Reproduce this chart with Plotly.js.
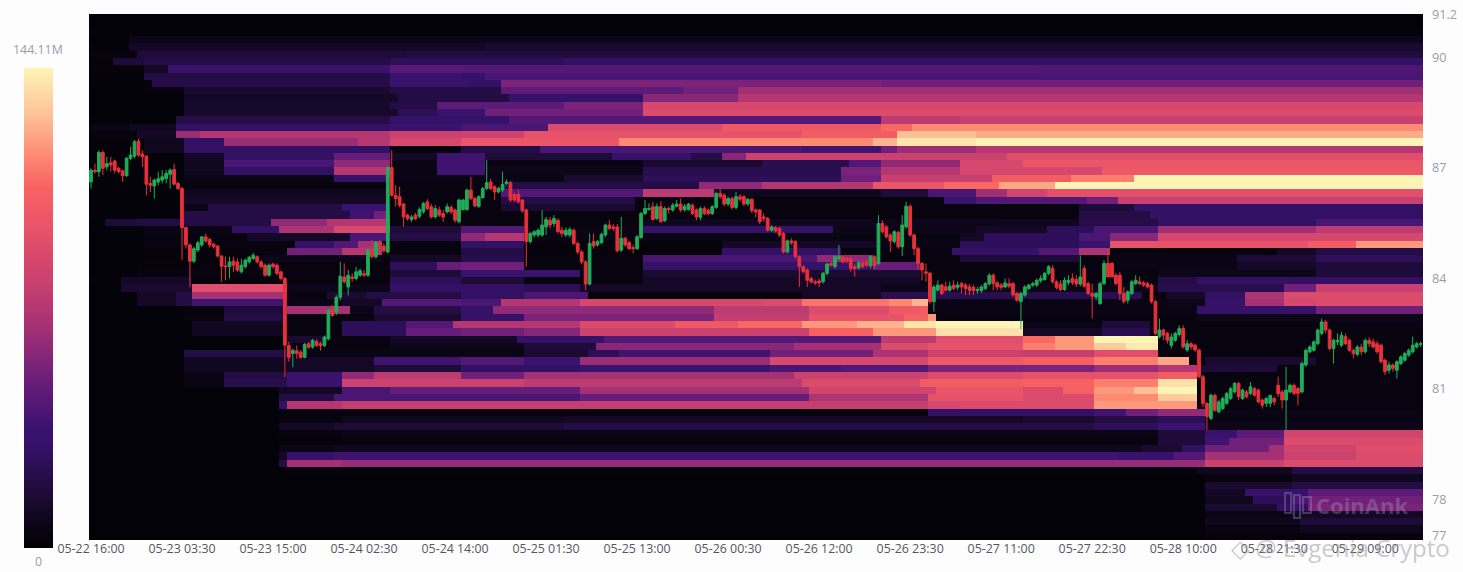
<!DOCTYPE html>
<html><head><meta charset="utf-8">
<script src="https://cdn.plot.ly/plotly-3.0.1.min.js"></script>
<style>html,body{margin:0;padding:0;background:#fdfdfe;overflow:hidden}</style></head>
<body><div id="chart" style="width:1463px;height:572px"></div>
<script>
// half-hour slot numbers of the labelled times (slot 0 = 05-22 16:00)
const tickSlots=[0,23,46,69,92,115,138,161,184,207,230,253,276,299,322];
const tickLabels=["05-22 16:00","05-23 03:30","05-23 15:00","05-24 02:30","05-24 14:00","05-25 01:30","05-25 13:00","05-26 00:30","05-26 12:00","05-26 23:30","05-27 11:00","05-27 22:30","05-28 10:00","05-28 21:30","05-29 09:00"];
const priceTicks=[91.16,90,87,84,81,78,77];
const priceLabels=["91.2","90","87","84","81","78","77"];
const maxLabel="144.11M", minLabel="0";

const opens=[86.61,86.93,86.89,87.41,87.02,87.13,87.18,86.98,86.91,86.78,
87.25,87.31,87.72,87.37,87.31,86.57,86.50,86.61,86.66,86.70,
86.82,86.95,86.57,86.43,85.37,84.90,84.46,84.76,84.90,85.12,
85.05,84.92,84.87,84.60,84.33,84.31,84.46,84.44,84.17,84.31,
84.44,84.53,84.58,84.44,84.35,84.08,84.38,84.35,84.17,83.99,
82.17,81.95,82.03,81.99,81.85,82.22,82.13,82.28,82.22,82.17,
82.35,83.17,83.08,83.48,84.03,83.76,84.03,83.99,84.08,84.12,
84.08,84.76,84.58,84.97,84.87,84.71,87.00,86.25,86.21,86.01,
85.71,85.59,85.71,85.68,85.80,86.07,85.94,85.66,85.85,85.75,
85.80,85.92,85.85,85.53,85.86,85.86,86.39,86.16,85.95,86.19,
86.43,86.61,86.48,86.34,86.39,86.57,86.59,86.27,86.27,86.12,
85.85,84.99,85.17,85.17,85.17,85.39,85.57,85.48,85.57,85.30,
85.17,85.17,85.30,84.94,84.71,84.44,83.84,84.99,84.90,84.96,
85.17,85.44,85.39,85.39,84.76,85.08,84.96,84.83,84.80,85.10,
85.75,85.86,85.94,85.62,85.94,85.56,85.89,85.85,85.95,86.01,
85.85,85.86,85.98,85.85,85.65,85.89,85.85,85.75,85.92,86.30,
86.25,86.01,86.16,85.92,86.21,86.21,86.01,86.14,85.85,85.85,
85.66,85.62,85.30,85.37,85.35,85.21,84.71,85.01,84.99,84.58,
84.31,84.22,83.99,83.90,83.92,83.90,84.13,84.40,84.31,84.53,
84.58,84.53,84.53,84.31,84.28,84.42,84.44,84.33,84.58,84.40,
85.48,85.39,85.17,84.99,85.24,84.85,85.39,85.95,85.17,84.80,
84.40,84.17,84.13,83.36,83.67,83.81,83.76,83.67,83.81,83.75,
83.85,83.81,83.76,83.75,83.66,83.66,83.72,83.84,84.08,83.87,
83.81,83.76,83.85,83.85,83.58,83.36,83.54,83.72,83.81,83.81,
83.93,83.96,84.13,84.26,83.90,83.84,83.69,83.88,83.99,83.96,
83.84,84.26,83.85,83.58,83.49,83.31,83.85,84.40,84.40,84.08,
84.08,83.58,83.40,83.58,83.85,83.90,83.87,83.85,83.81,83.36,
82.41,82.59,82.50,82.17,82.31,82.47,82.63,82.05,82.22,82.18,
82.05,81.32,80.60,80.19,80.82,80.37,80.46,80.60,80.73,80.91,
81.14,80.73,80.91,80.87,81.00,80.96,80.69,80.60,80.60,80.73,
81.09,80.91,80.69,80.91,81.09,81.00,80.91,81.64,82.00,82.04,
82.22,82.50,82.81,82.59,82.09,82.27,82.18,82.41,82.31,82.04,
81.93,82.13,82.00,82.31,82.27,82.22,82.18,81.77,81.50,81.64,
81.50,81.68,81.77,81.91,82.00,82.13,82.20];
const highs=[86.98,87.11,87.47,87.47,87.29,87.29,87.22,87.02,86.95,87.29,
87.56,87.75,87.79,87.47,87.34,86.75,86.70,86.89,86.93,86.93,
86.98,87.11,86.61,86.48,85.39,84.94,84.85,85.01,85.12,85.21,
85.10,84.96,84.90,84.62,84.58,84.58,84.58,84.53,84.53,84.53,
84.60,84.69,84.62,84.49,84.40,84.40,84.42,84.40,84.20,84.03,
82.27,82.09,82.17,82.04,82.24,82.26,82.35,82.33,82.27,82.44,
83.17,83.27,83.54,84.44,84.40,84.22,84.13,84.31,84.26,84.22,
84.80,85.03,85.01,85.03,84.94,87.04,87.47,86.52,86.48,86.04,
85.75,85.71,85.77,85.92,86.07,86.14,86.01,85.98,85.94,85.85,
86.03,85.98,85.89,86.16,86.15,86.43,86.75,86.21,86.25,86.48,
87.20,86.70,86.52,86.48,86.89,86.68,86.64,86.32,86.39,86.15,
85.89,85.26,85.30,85.35,85.85,85.66,85.66,85.71,85.62,85.39,
85.37,85.39,85.35,84.99,84.76,84.49,85.21,85.21,85.03,85.23,
85.48,85.57,85.47,85.47,85.66,85.12,85.01,84.90,85.17,85.80,
86.12,86.03,86.07,86.03,86.09,85.95,85.95,86.04,86.12,86.16,
86.01,86.04,86.03,85.89,85.94,85.95,85.89,85.98,86.34,86.43,
86.30,86.21,86.21,86.34,86.28,86.25,86.17,86.17,85.89,85.88,
85.75,85.66,85.44,85.41,85.39,85.26,85.05,85.08,85.03,84.62,
84.35,84.26,84.03,83.96,83.99,84.17,84.42,84.44,84.62,84.90,
84.62,84.58,84.58,84.40,84.47,84.47,84.51,84.62,84.62,85.71,
85.57,85.44,85.21,85.30,85.29,85.71,86.07,86.01,85.21,84.85,
84.44,84.40,84.17,83.81,83.94,83.85,83.90,83.90,83.94,83.90,
83.90,83.87,83.84,83.81,83.76,83.81,83.90,84.13,84.13,83.92,
83.87,83.99,83.99,83.90,83.63,83.63,83.81,83.85,83.90,83.99,
84.08,84.17,84.35,84.35,83.94,83.94,84.02,84.08,84.13,84.08,
84.62,84.35,83.90,83.85,83.63,83.90,84.49,84.80,84.44,84.13,
84.17,83.76,83.67,83.94,84.08,84.04,83.92,83.90,83.85,83.40,
82.90,82.63,82.54,82.50,82.54,82.72,82.72,82.32,82.27,82.22,
82.09,81.37,80.64,80.87,80.87,80.70,80.78,80.91,81.05,81.18,
81.18,81.00,80.96,81.18,81.05,81.00,80.73,80.78,80.82,80.78,
81.32,80.96,81.59,81.14,81.14,81.05,81.73,82.09,82.18,82.31,
82.63,82.90,82.86,82.63,82.36,82.50,82.54,82.50,82.36,82.09,
82.18,82.22,82.36,82.39,82.36,82.30,82.22,81.82,81.73,81.68,
81.77,81.91,82.00,82.09,82.41,82.27,82.27];
const lows=[86.43,86.84,86.75,86.80,86.93,86.89,86.84,86.84,86.61,86.75,
87.20,87.25,87.29,87.02,86.25,86.34,86.16,86.52,86.57,86.57,
86.43,86.52,86.39,84.49,84.80,83.76,84.40,84.71,84.85,84.96,
84.83,84.80,84.56,83.90,83.94,83.99,84.17,84.17,84.13,84.26,
84.40,84.49,84.40,84.26,84.04,84.04,84.26,84.08,83.94,81.31,
81.73,81.58,81.81,81.81,81.82,82.08,82.08,82.14,82.03,82.13,
82.31,82.95,82.99,83.40,83.85,83.53,83.90,83.94,84.03,84.03,
84.03,84.53,84.53,84.80,84.69,84.67,86.21,85.94,85.92,85.39,
85.56,85.53,85.57,85.62,85.75,85.85,85.62,85.62,85.66,85.53,
85.75,85.74,85.50,85.48,85.83,85.83,86.12,85.92,85.91,86.15,
86.39,86.39,86.12,86.30,86.34,86.52,86.07,86.07,86.03,85.77,
84.31,84.94,85.10,85.10,85.12,85.17,85.35,85.39,85.21,85.12,
85.12,85.10,84.90,84.65,84.38,83.67,83.80,84.80,84.85,84.92,
85.12,85.30,85.28,84.70,84.71,84.85,84.76,84.67,84.76,85.07,
85.71,85.83,85.56,85.57,85.50,85.52,85.75,85.80,85.92,85.79,
85.81,85.83,85.71,85.57,85.57,85.71,85.71,85.71,85.88,86.15,
85.95,85.95,85.86,85.86,86.08,85.95,85.95,85.77,85.66,85.47,
85.53,85.26,85.26,85.23,85.12,84.67,84.67,84.90,84.53,83.76,
84.13,83.76,83.85,83.81,83.76,83.85,84.08,84.31,84.26,84.49,
84.40,84.40,84.17,84.04,84.22,84.26,84.29,84.26,84.26,84.35,
85.21,85.08,84.71,84.94,84.80,84.60,85.35,85.12,84.62,84.22,
83.94,83.90,83.31,83.09,83.63,83.54,83.63,83.63,83.67,83.67,
83.58,83.54,83.54,83.54,83.58,83.60,83.67,83.80,83.67,83.67,
83.67,83.72,83.72,83.49,83.36,82.62,83.49,83.67,83.76,83.76,
83.87,83.93,84.08,83.85,83.69,83.65,83.65,83.81,83.81,83.76,
83.78,83.74,83.54,82.90,83.40,83.27,83.81,84.03,84.03,83.81,
83.40,83.31,83.31,83.54,83.81,83.81,83.76,83.72,83.31,82.45,
82.36,82.32,82.22,82.09,82.27,82.41,82.09,82.00,82.06,82.00,
81.28,80.50,79.87,80.15,80.37,80.33,80.41,80.55,80.69,80.87,
80.69,80.69,80.73,80.82,80.78,80.60,80.46,80.50,80.50,80.55,
80.78,80.46,79.87,80.87,80.82,80.55,80.87,81.59,81.95,82.00,
82.18,82.45,82.50,82.04,81.68,82.18,82.13,82.18,82.00,81.82,
81.88,81.91,81.95,82.13,82.09,81.95,81.68,81.37,81.41,81.46,
81.27,81.64,81.73,81.86,81.95,82.09,82.13];
const closes=[86.93,86.89,87.41,86.98,87.11,87.07,86.93,86.89,86.78,87.25,
87.34,87.70,87.34,87.29,86.55,86.52,86.66,86.70,86.75,86.84,
86.93,86.55,86.43,85.37,84.90,84.46,84.80,84.96,85.12,85.01,
84.90,84.85,84.60,84.32,84.31,84.44,84.35,84.22,84.35,84.49,
84.56,84.62,84.44,84.31,84.08,84.35,84.31,84.13,83.99,82.18,
81.85,82.04,81.95,81.85,82.20,82.12,82.31,82.17,82.17,82.40,
83.12,82.99,83.48,84.05,83.90,84.08,83.99,84.17,84.20,84.08,
84.76,84.58,84.97,84.85,84.74,87.00,86.25,86.16,85.98,85.66,
85.62,85.66,85.62,85.86,86.03,85.89,85.66,85.89,85.71,85.66,
85.94,85.80,85.57,86.12,86.12,86.39,86.16,85.96,86.21,86.43,
86.59,86.43,86.34,86.43,86.54,86.61,86.12,86.12,86.07,85.83,
84.99,85.21,85.26,85.30,85.44,85.59,85.44,85.62,85.26,85.21,
85.30,85.32,84.94,84.71,84.44,83.84,84.94,84.87,84.99,85.19,
85.44,85.35,85.35,84.74,85.08,84.90,84.80,84.80,85.12,85.75,
85.89,85.89,85.59,85.94,85.53,85.89,85.86,85.98,86.01,85.85,
85.95,86.01,85.75,85.66,85.89,85.75,85.75,85.94,86.30,86.21,
86.01,86.16,85.92,86.21,86.14,86.01,86.14,85.83,85.80,85.53,
85.62,85.30,85.39,85.28,85.17,84.71,85.01,84.96,84.58,84.31,
84.17,83.94,83.90,83.87,83.87,84.13,84.38,84.35,84.58,84.58,
84.44,84.49,84.26,84.26,84.42,84.31,84.35,84.58,84.33,85.48,
85.26,85.12,85.01,85.26,84.85,85.44,85.95,85.17,84.80,84.40,
84.22,84.13,83.36,83.76,83.81,83.58,83.67,83.78,83.72,83.81,
83.76,83.72,83.67,83.66,83.69,83.76,83.85,84.08,83.85,83.76,
83.75,83.87,83.78,83.54,83.40,83.58,83.76,83.81,83.85,83.94,
83.99,84.13,84.31,83.90,83.75,83.69,83.94,83.94,83.88,83.84,
84.03,83.78,83.58,83.51,83.58,83.85,84.40,84.03,84.03,83.85,
83.58,83.36,83.63,83.90,83.94,83.85,83.81,83.76,83.36,82.50,
82.59,82.45,82.31,82.40,82.50,82.63,82.13,82.22,82.13,82.05,
81.32,80.60,80.24,80.82,80.41,80.64,80.73,80.87,81.00,81.14,
80.78,80.96,80.78,81.05,80.82,80.64,80.55,80.73,80.82,80.64,
80.86,80.69,80.96,81.09,80.87,80.87,81.68,82.04,82.13,82.27,
82.59,82.81,82.59,82.09,82.31,82.31,82.45,82.22,82.04,81.95,
82.13,82.00,82.31,82.22,82.13,82.00,81.73,81.46,81.64,81.55,
81.73,81.86,81.95,82.04,82.18,82.22,82.22];

// Liquidation level per price band, top band first, as percent of the 144.11M maximum.
// Each list alternates: hour from which a level holds, level.
const heatBands=[
[0,0],[0,0],[0,1],
[0,0,5,5],
[0,1,5,8,50,10],
[0,2,6,12,40,13],
[0,1,3,12,7,14,38,18,60,20],
[0,2,7,8,10,24,38,31,47,30,120,29],
[0,1,7,14,38,24,47,22,50,28],
[0,1,8,15,38,24,48,20,52,38,100,36],
[0,0,7,3,12,10,38,14,52,32,75,36,82,45],
[0,0,12,8,39,14,48,14,53,22,70,40,82,50],
[0,0,12,9,38,14,44,32,60,38,70,60],
[0,0,12,9,39,18,44,24,50,36,70,62],
[0,1,11,15,38,22,53,30,100,52,110,55],
[0,4,5,7,11,20,38,24,47,28,58,62,80,70,100,76,104,82],
[0,2,6,8,11,44,14,50,38,56,55,66,90,72,102,90,112,87],
[0,1,7,6,12,20,17,44,34,50,38,60,47,68,67,82,99,88,102,97,112,100],
[0,1,7,6,12,20,38,3,47,14,57,28,90,26,100,36,102,44,112,50],
[0,1,12,8,17,20,31,34,38,8,44,26,50,12,66,22,76,14,80,40,83,56,116,64],
[0,1,12,6,17,28,31,42,38,4,44,26,50,4,70,10,85,16,96,30,100,42,110,60,118,68],
[0,1,12,6,17,20,31,50,38,4,44,26,50,5,70,16,95,38,100,50,110,60,128,70],
[0,1,12,4,31,22,38,4,60,10,70,18,95,36,100,55,114,72,124,80,132,100],
[0,1,12,3,38,3,52,14,77,42,85,50,99,68,108,76,115,86,122,100],
[0,1,12,6,38,3,52,30,70,52,79,6,100,12,106,28,112,45,116,58,121,65],
[0,1,12,8,38,3,52,14,69,3,108,24,112,30,126,36,130,55],
[0,1,12,4,15,14,32,24,38,3,52,10,69,3,125,12,132,20],
[0,1,12,14,33,26,36,36,38,3,100,3,125,14,134,20],
[0,0,2,12,6,14,23,42,30,50,38,3,70,6,100,5,115,6,125,15,135,20,155,28],
[0,1,7,4,18,20,24,48,31,60,38,12,47,30,55,4,70,22,94,5,112,8,121,18,127,28,135,45,155,52],
[0,0,7,3,20,8,33,28,38,14,47,42,50,50,55,4,110,8,113,18,125,28,129,40,135,60],
[0,0,7,3,26,22,31,30,34,46,37,3,47,20,55,2,80,8,100,4,110,18,125,24,129,66,154,72,160,84],
[0,0,7,2,25,36,32,50,37,3,47,14,55,2,80,20,95,3,109,22,120,30,125,48,129,3,150,8,155,14],
[0,0,6,1,22,5,37,3,38,8,47,16,55,3,70,28,92,42,99,3,110,12,125,3,130,4,145,12,155,18],
[0,0,6,2,14,3,38,18,44,34,47,36,55,3,70,22,99,34,105,3,130,4,145,8,155,12],
[0,0,6,3,38,12,47,24,62,3,70,10,105,3,135,5,155,12],
[0,1,4,8,13,2,25,3,38,18,47,12,55,3,70,8,105,3,135,14,140,20],
[0,0,4,10,13,64,25,5,38,20,55,18,62,8,100,5,135,16,151,36,155,55],
[0,0,6,8,11,14,13,46,25,3,30,10,35,14,47,20,55,28,63,3,90,8,100,16,133,3,136,8,141,20,146,48,151,62],
[0,0,6,8,11,14,13,26,25,4,32,8,37,30,47,28,52,50,62,60,85,62,90,78,101,82,104,88,106,4,136,5,141,22,146,46,151,60,155,62],
[0,0,6,1,12,2,17,12,25,46,33,5,36,14,47,22,51,42,79,52,91,62,101,70,105,72,106,4,140,22,155,36],
[0,0,12,3,17,14,25,3,36,10,47,22,55,38,79,54,91,66,103,74,106,84,107,3,140,5],
[0,0,13,7,25,3,32,18,40,30,46,50,62,62,74,70,82,76,90,84,97,88,103,97,107,100,118,4,128,12,134,3,155,4],
[0,0,13,7,25,3,32,18,40,34,47,36,55,40,62,56,91,74,99,84,107,96,118,8,128,16,134,3],
[0,0,25,10,30,3,38,8,54,22,65,30,100,52,107,64,118,76,122,84,127,100,135,3],
[0,0,25,3,38,5,55,12,64,40,89,46,100,62,106,66,118,80,122,84,127,92,131,98,135,3],
[0,0,12,14,25,4,55,10,63,18,67,26,86,36,99,48,106,56,118,54,127,64,135,3],
[0,0,12,7,25,8,36,26,47,30,55,24,62,44,86,60,106,70,118,74,127,80,135,86,139,3,141,10,155,3],
[0,0,12,6,25,8,36,12,47,20,62,24,86,28,95,30,106,38,127,44,135,50,140,12,150,3],
[0,0,12,4,17,14,25,24,32,42,36,52,47,36,55,46,89,56,106,62,118,66,135,72,140,3],
[0,0,12,4,17,16,25,24,32,56,55,52,90,62,105,72,118,74,127,80,135,96,140,3],
[0,0,24,8,32,28,38,34,62,46,91,58,107,68,118,62,123,74,127,84,132,90,135,100,140,3],
[0,0,24,14,31,28,62,34,91,48,106,66,118,62,127,82,135,92,140,3],
[0,0,24,20,25,50,32,54,106,60,110,62,127,84,140,3],
[0,0,24,3,106,20,127,26,131,36,135,42,141,4],
[0,0,24,3,32,6,60,8,118,10,127,14,135,18,141,4],
[0,0,24,8,31,11,60,14,127,18,135,24,141,5],
[0,0,24,2,32,4,135,12,141,24,145,32,151,58],
[0,0,24,1,32,3,135,12,141,26,144,36,151,62],
[0,0,24,4,31,6,133,10,138,20,141,36,149,46,151,58,160,64],
[0,0,24,8,25,22,31,26,130,24,137,30,141,46,151,56,160,62],
[0,0,24,14,25,46,32,43,141,56,151,62],
[0,0,25,2,140,6,152,14],
[0,0,141,3,152,6],
[0,0,141,10,152,14],
[0,0,141,8,146,22,154,32],
[0,0,141,6,147,18,152,28,154,36],
[0,0,141,10,150,20,154,38],
[0,0,141,4,152,8],
[0,0,141,6,153,12],
[0,0,141,3,153,6],
[0,0,141,2]
];
const hourCount=169;

function expandBand(list){
  const row=[];
  for(let h=0;h<hourCount;h++){
    let v=0;
    for(let i=0;i<list.length;i+=2){ if(list[i]<=h) v=list[i+1]; }
    row.push(v);
  }
  return row;
}
const z=heatBands.map(expandBand).reverse();

const slots=opens.map((_,i)=>i);
const scale=[[0,'#030208'],[0.03,'#07040f'],[0.1,'#1a0a30'],[0.2,'#321063'],[0.25,'#3b1270'],[0.35,'#6b1e7a'],[0.45,'#a02f74'],[0.55,'#c8406f'],[0.65,'#e3506a'],[0.75,'#f96262'],[0.82,'#fd8b72'],[0.9,'#fdc096'],[1,'#fdf5b5']];

const data=[{
  type:'heatmap',z:z,x0:0.5,dx:2,y0:76.99,dy:0.1983,zmin:0,zmax:100,colorscale:scale,hoverinfo:'skip',
  colorbar:{xref:'paper',yref:'paper',x:-0.0487,xanchor:'left',y:-0.0152,yanchor:'bottom',
    lenmode:'pixels',len:480,thicknessmode:'pixels',thickness:29,outlinewidth:0,xpad:0,ypad:0,
    showticklabels:false,ticks:''}
},{
  type:'candlestick',x:slots,open:opens,high:highs,low:lows,close:closes,hoverinfo:'skip',
  increasing:{line:{color:'#20ad5a',width:1},fillcolor:'#20ad5a'},
  decreasing:{line:{color:'#e8313a',width:1},fillcolor:'#e8313a'},
  whiskerwidth:0
}];

const layout={
  width:1463,height:572,showlegend:false,
  paper_bgcolor:'#fdfdfe',plot_bgcolor:'#030208',
  margin:{l:89,r:40,t:14,b:32,pad:0,autoexpand:false},
  boxgap:0.02,
  font:{family:'"Open Sans",sans-serif'},
  xaxis:{type:'linear',range:[-0.5,336.6],showgrid:false,zeroline:false,showline:false,ticks:'',
    tickmode:'array',tickvals:tickSlots,ticktext:tickLabels,tickfont:{size:12.4,color:'#55555f'},rangeslider:{visible:false},tickangle:0},
  yaxis:{side:'right',range:[76.89,91.17],showgrid:false,zeroline:false,showline:false,ticks:'',ticklabelstandoff:8,
    tickmode:'array',tickvals:priceTicks,ticktext:priceLabels,tickfont:{size:12.6,color:'#9c9caa'}},
  annotations:[
    {xref:'paper',yref:'paper',xanchor:'center',yanchor:'middle',x:-0.0382,y:0.9316,text:maxLabel,showarrow:false,font:{size:12.4,color:'#9c9caa'}},
    {xref:'paper',yref:'paper',xanchor:'center',yanchor:'middle',x:-0.0382,y:-0.0418,text:minLabel,showarrow:false,font:{size:12.4,color:'#9c9caa'}},
    {xref:'paper',yref:'paper',xanchor:'center',yanchor:'middle',x:0.9543,y:0.0665,text:'<b>CoinAnk</b>',showarrow:false,font:{size:22,color:'rgba(170,170,200,0.32)'}},
    {xref:'paper',yref:'paper',xanchor:'center',yanchor:'middle',x:0.9378,y:-0.0152,text:'◇ @ Evgenia Crypto',showarrow:false,font:{size:24,color:'rgba(150,150,155,0.5)'}}
  ],
  shapes:[
    {type:'rect',xref:'paper',yref:'paper',x0:0.8966,x1:0.9011,y0:0.0513,y1:0.0894,line:{color:'rgba(170,170,200,0.32)',width:2}},
    {type:'rect',xref:'paper',yref:'paper',x0:0.9033,x1:0.9078,y0:0.0418,y1:0.0856,line:{color:'rgba(170,170,200,0.32)',width:2}},
    {type:'rect',xref:'paper',yref:'paper',x0:0.9101,x1:0.9160,y0:0.0513,y1:0.0818,line:{color:'rgba(170,170,200,0.32)',width:2}}
  ]
};
Plotly.newPlot('chart',data,layout,{displayModeBar:false,staticPlot:true});
</script></body></html>
